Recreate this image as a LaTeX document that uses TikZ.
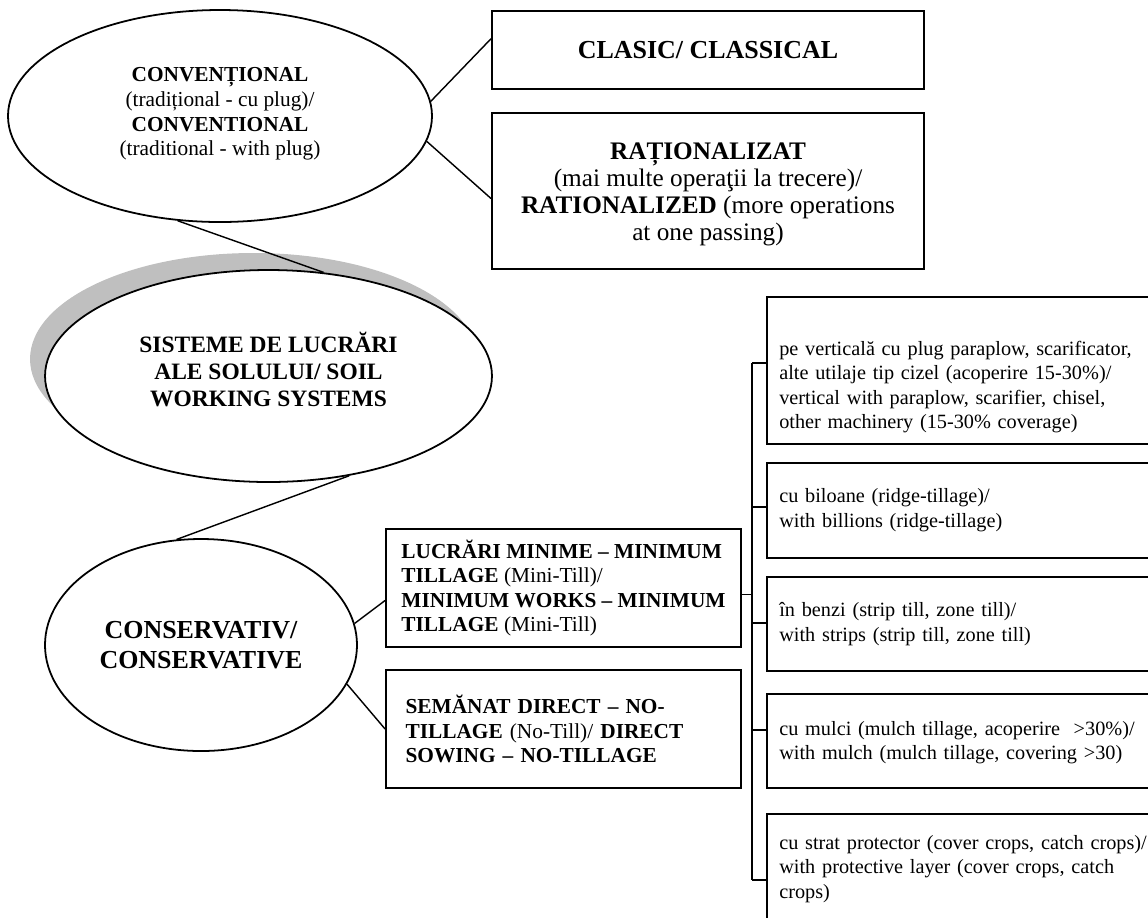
\documentclass[tikz,border=0pt]{standalone}
\usepackage{fontspec}
\setmainfont{Liberation Serif}
\usepackage{tikz}
\usetikzlibrary{shapes.geometric, calc}
\tikzset{oval/.style={shape=ellipse, draw, fill=white, line width=1pt,
    inner sep=0pt, align=center, minimum height=119.25pt}}
\tikzset{tbox/.style={shape=rectangle, draw, fill=white, line width=1pt,
    inner sep=0pt}}
\tikzset{mbox/.style={tbox, align=left, minimum width=199.7pt,
    minimum height=66.4pt, font=\fontsize{12}{13.8}\selectfont}}
\tikzset{lbox/.style={tbox, align=left, inner xsep=7pt, text width=213.2pt,
    anchor=north west, font=\fontsize{11.4}{13.8}\selectfont}}
\tikzset{link/.style={line width=0.8pt}}

\begin{document}
\begin{tikzpicture}[x=0.5625pt, y=-0.5625pt]
      \useasboundingbox (0,0) rectangle (1148,917);
      \clip (0,0) rectangle (1148,917);
      % ovals
      \node[oval, minimum width=238.5pt, font=\fontsize{12}{13.9}\selectfont]
      (conv) at (220,116) {\textbf{CONVENȚIONAL}\\(tradițional - cu plug)/\\
        \textbf{CONVENTIONAL}\\(traditional - with plug)\rule[-4.8pt]{0pt}{0pt}};
      \node[oval, draw=none, fill=black!25, minimum width=251.4pt]
      (sysshadow) at (253.5,359) {};
      \node[oval, minimum width=251.4pt,
        font=\fontsize{13.2}{15.2}\selectfont\bfseries]
      (sys) at (268.5,376) {SISTEME DE LUCRĂRI\\ALE SOLULUI/ SOIL\\
        WORKING SYSTEMS\rule[-8pt]{0pt}{0pt}};
      \node[oval, minimum width=175.5pt,
        font=\fontsize{14.6}{16.9}\selectfont\bfseries]
      (cons) at (201,645) {CONSERVATIV/\\CONSERVATIVE};
      % boxes
      \node[tbox, minimum width=243pt, minimum height=43.9pt,
        font=\fontsize{14.6}{16}\selectfont\bfseries]
      (clasic) at (708,50) {CLASIC/ CLASSICAL};
      \node[tbox, minimum width=243pt, minimum height=87.75pt, align=center,
        font=\fontsize{14.2}{15.2}\selectfont]
      (rational) at (708,191) {\rule{0pt}{13pt}\textbf{RAȚIONALIZAT}\\
        (mai multe operaţii la trecere)/\\
        \textbf{RATIONALIZED} (more operations\\at one passing)};
      \node[mbox] (minim) at (563.5,588) {\textbf{LUCRĂRI MINIME – MINIMUM}\\
        \textbf{TILLAGE} (Mini-Till)/\\\textbf{MINIMUM WORKS – MINIMUM}\\
        \textbf{TILLAGE} (Mini-Till)};
      \node[mbox, text width=177.7pt, inner xsep=11pt] (direct) at (563.5,729)
      {\textbf{SEMĂNAT DIRECT – NO-}\\
        \textbf{TILLAGE} (No-Till)/ \textbf{DIRECT}\\\textbf{SOWING – NO-TILLAGE}};
      \node[lbox, minimum height=82.7pt] (b1) at (766,296)
      {\rule{0pt}{26.9pt}pe verticală cu plug paraplow, scarificator,\\
        alte utilaje tip cizel (acoperire 15-30\%)/\\
        vertical with paraplow, scarifier, chisel,\\
        other machinery (15-30\% coverage)};
      \node[lbox, minimum height=53.4pt] (b2) at (766,462)
      {cu biloane (ridge-tillage)/\\with billions (ridge-tillage)};
      \node[lbox, minimum height=52.9pt] (b3) at (766,576)
      {în benzi (strip till, zone till)/\\with strips (strip till, zone till)};
      \node[lbox, minimum height=52.9pt] (b4) at (766,693)
      {\rule{0pt}{10pt}cu mulci (mulch tillage, acoperire \ >30\%)/\\
        with mulch (mulch tillage, covering >30)};
      \node[lbox, minimum height=61.9pt] (b5) at (766,813)
      {cu strat protector (cover crops, catch crops)/\\
        with protective layer (cover crops, catch\\crops)};
      % links
      \path[link] (conv.4) edge (clasic.177);
      \path[link] (conv.-7) edge (rational.182);
      \path[link] (conv.248) edge (sys.62);
      \path[link] (sys.-51) edge (cons.103);
      \path[link] (cons.8) edge (minim.184);
      \path[link] (cons.-15) edge (direct.west);
      \coordinate (t1) at (752,363);
      \coordinate (t2) at (752,507);
      \coordinate (t3) at (752,623);
      \coordinate (t4) at (752,730);
      \coordinate (t5) at (752,880);
      \draw[link] (t1) -- (t5);
      \foreach \i in {1,...,5} \draw[link] (t\i) -- (t\i -| b\i.west);
      \draw[link] (minim.-2) -- (minim.-2 -| t1);
\end{tikzpicture}
\end{document}
